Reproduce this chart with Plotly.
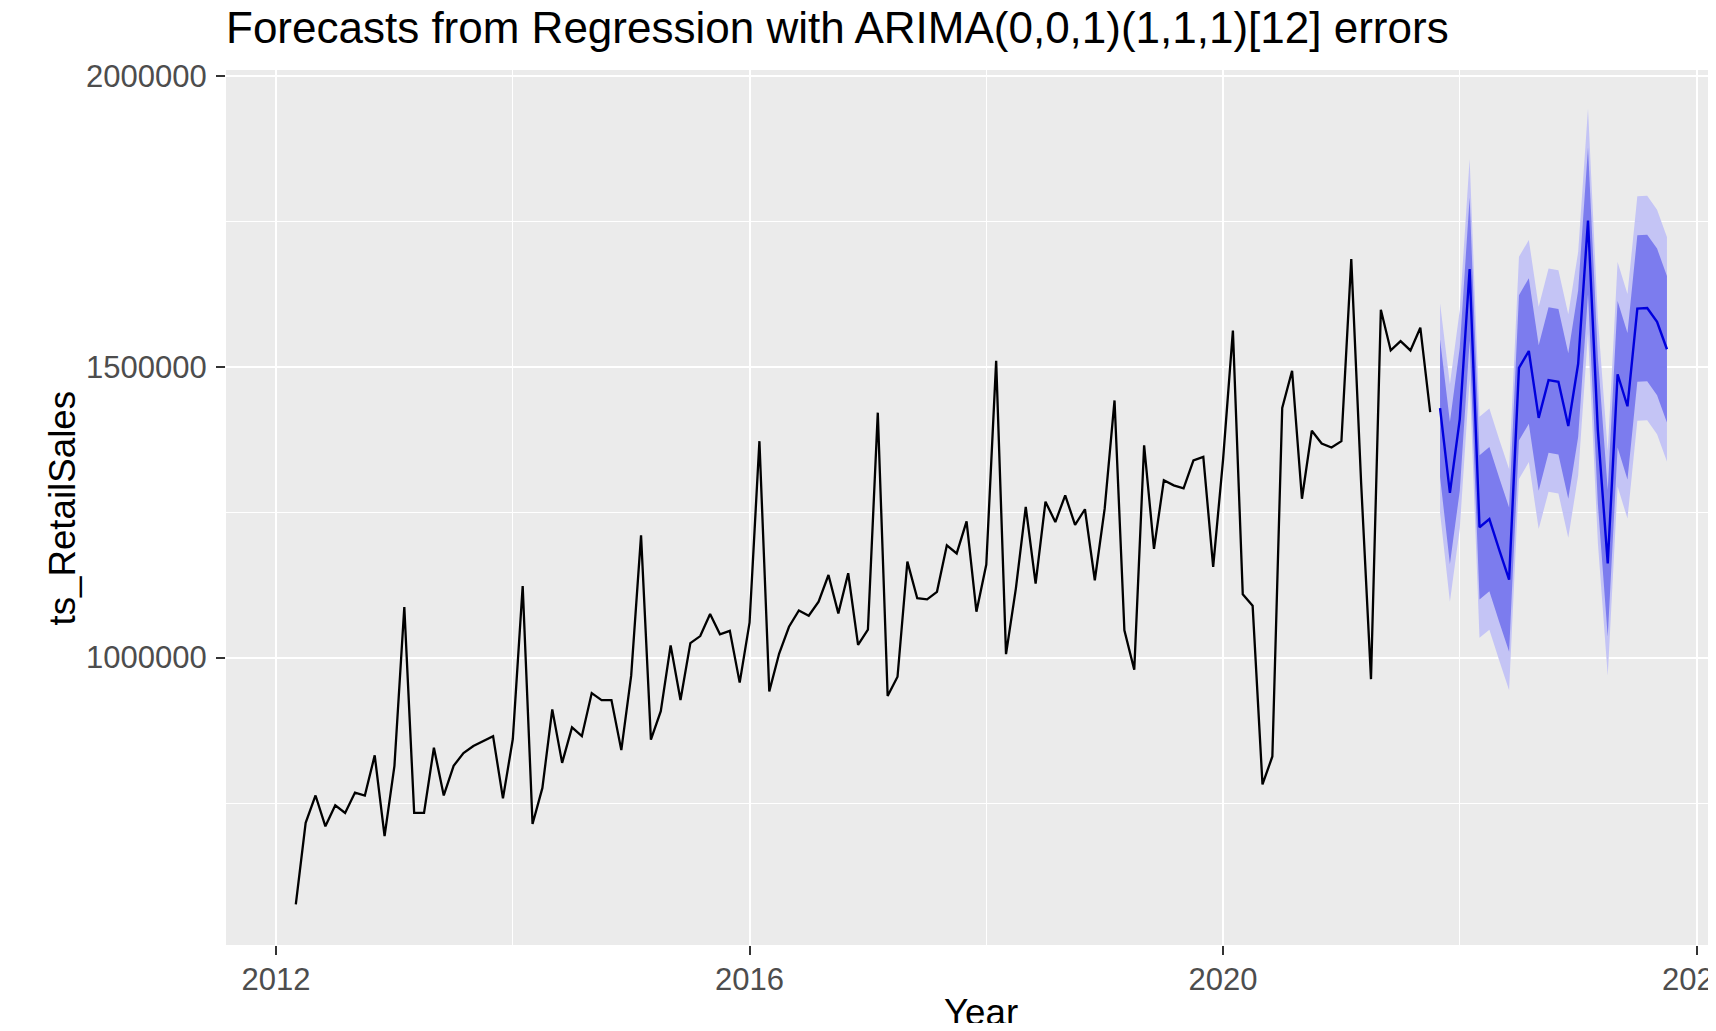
import plotly.graph_objects as go

# monthly series, ts(start = c(2012, 3), frequency = 12)
START = 2012 + 2 / 12
FREQ = 12

retail_sales = [
    575700, 716000, 763000, 710000, 746000, 733000, 768000, 763000, 832000, 693000,
    814000, 1087000, 733000, 733000, 845000, 763000, 814000, 836000, 848000, 857000,
    865000, 758000, 860000, 1123000, 714000, 776000, 911000, 819000, 880000, 865000,
    939000, 927000, 927000, 841000, 969000, 1210000, 859000, 908000, 1021000, 927000,
    1025000, 1037000, 1075000, 1040000, 1046000, 957000, 1060000, 1372000, 942000, 1007000,
    1053000, 1081000, 1072000, 1096000, 1142000, 1076000, 1145000, 1022000, 1048000, 1421000,
    934000, 967000, 1165000, 1102000, 1100000, 1113000, 1193000, 1179000, 1234000, 1079000,
    1160000, 1510000, 1006000, 1119000, 1259000, 1127000, 1268000, 1233000, 1279000, 1228000,
    1255000, 1133000, 1256000, 1442000, 1047000, 979000, 1365000, 1187000, 1305000, 1296000,
    1291000, 1339000, 1345000, 1156000, 1340000, 1562000, 1109000, 1089000, 782000, 830000,
    1429000, 1493000, 1273000, 1390000, 1368000, 1361000, 1372000, 1685000, 1300000, 963000,
    1598000, 1528000, 1544000, 1528000, 1567000, 1422000,
]

fc_mean = [
    1429000, 1283000, 1410000, 1668000, 1224000, 1238000, 1185000, 1134000, 1498000, 1527000,
    1412000, 1477000, 1474000, 1398000, 1505000, 1751000, 1390000, 1162000, 1487000, 1432000,
    1600000, 1601000, 1577000, 1530000,
]
# half widths of the 80% and 95% intervals
fc_hw80 = [
    118000, 122000, 123000, 123000, 124000, 124000, 124000, 124000, 125000, 125000,
    125000, 125000, 125000, 125000, 126000, 126000, 126000, 126000, 126000, 126000,
    126000, 126000, 126000, 126000,
]
fc_hw95 = [
    180000, 187000, 188000, 189000, 190000, 190000, 190000, 190000, 191000, 191000,
    191000, 192000, 192000, 192000, 192000, 193000, 193000, 193000, 193000, 193000,
    193000, 193000, 193000, 193000,
]

x_ticks = [2012, 2016, 2020, 2024]
y_ticks = [1000000, 1500000, 2000000]

TITLE = "Forecasts from Regression with ARIMA(0,0,1)(1,1,1)[12] errors"
FONT = "Liberation Sans, Arial, sans-serif"

t_obs = [START + i / FREQ for i in range(len(retail_sales))]
t_fc = [START + (len(retail_sales) + i) / FREQ for i in range(len(fc_mean))]
lo80 = [m - h for m, h in zip(fc_mean, fc_hw80)]
hi80 = [m + h for m, h in zip(fc_mean, fc_hw80)]
lo95 = [m - h for m, h in zip(fc_mean, fc_hw95)]
hi95 = [m + h for m, h in zip(fc_mean, fc_hw95)]

fig = go.Figure()
fig.add_trace(go.Scatter(x=t_fc, y=lo95, mode="lines", line=dict(width=0), showlegend=False, hoverinfo="skip"))
fig.add_trace(go.Scatter(x=t_fc, y=hi95, mode="lines", line=dict(width=0), fill="tonexty",
                         fillcolor="#C4C4F5", showlegend=False, hoverinfo="skip"))
fig.add_trace(go.Scatter(x=t_fc, y=lo80, mode="lines", line=dict(width=0), showlegend=False, hoverinfo="skip"))
fig.add_trace(go.Scatter(x=t_fc, y=hi80, mode="lines", line=dict(width=0), fill="tonexty",
                         fillcolor="#7C7CEE", showlegend=False, hoverinfo="skip"))
fig.add_trace(go.Scatter(x=t_fc, y=fc_mean, mode="lines", line=dict(color="#0000DD", width=2.4), showlegend=False))
fig.add_trace(go.Scatter(x=t_obs, y=retail_sales, mode="lines", line=dict(color="black", width=2.3), showlegend=False))

# ggplot-like expanded range; the right part of the panel is cut off in the picture
x_lo = 2011.577
x_hi = 2024.097
x_mid = (t_obs[0] + t_fc[-1]) / 2

fig.add_annotation(text="Year", x=x_mid, xref="x", y=-0.0777, yref="paper", yanchor="middle",
                   showarrow=False, font=dict(family=FONT, size=36.7, color="black"))
fig.add_annotation(text="ts_RetailSales", textangle=-90, x=-0.110, xref="paper", xanchor="center",
                   y=0.5, yref="paper", showarrow=False, font=dict(family=FONT, size=36.7, color="black"))

# the page body keeps its default 8px margin, so the figure is 16px smaller than the window
fig.update_layout(
    width=1700,
    height=1015,
    autosize=False,
    margin=dict(l=218, r=0, t=62, b=78, autoexpand=False),
    paper_bgcolor="white",
    plot_bgcolor="#EBEBEB",
    showlegend=False,
    title=dict(text=TITLE, x=0, xref="paper", xanchor="left", y=1 - 4 / 1015, yref="container",
               yanchor="top", font=dict(family=FONT, size=44, color="black")),
    font=dict(family=FONT),
)
fig.update_xaxes(
    range=[x_lo, x_hi], tickmode="array", tickvals=x_ticks, ticktext=[str(v) for v in x_ticks],
    showgrid=True, gridcolor="white", gridwidth=2.4, zeroline=False, showline=False, automargin=False,
    ticks="outside", ticklen=9, tickwidth=1.5, tickcolor="#333333", ticklabelstandoff=-2,
    ticklabeloverflow="allow",
    tickfont=dict(family=FONT, size=31, color="#4D4D4D"),
    minor=dict(dtick=2, tick0=2012, showgrid=True, gridcolor="white", gridwidth=1.2),
)
fig.update_yaxes(
    range=[506000, 2010000], tickmode="array", tickvals=y_ticks, ticktext=[str(v) for v in y_ticks],
    showgrid=True, gridcolor="white", gridwidth=2.4, zeroline=False, showline=False, automargin=False,
    ticks="outside", ticklen=9, tickwidth=1.5, tickcolor="#333333", ticklabelstandoff=3,
    tickfont=dict(family=FONT, size=31, color="#4D4D4D"),
    minor=dict(dtick=250000, tick0=0, showgrid=True, gridcolor="white", gridwidth=1.2),
)

fig.write_html("out.html")
